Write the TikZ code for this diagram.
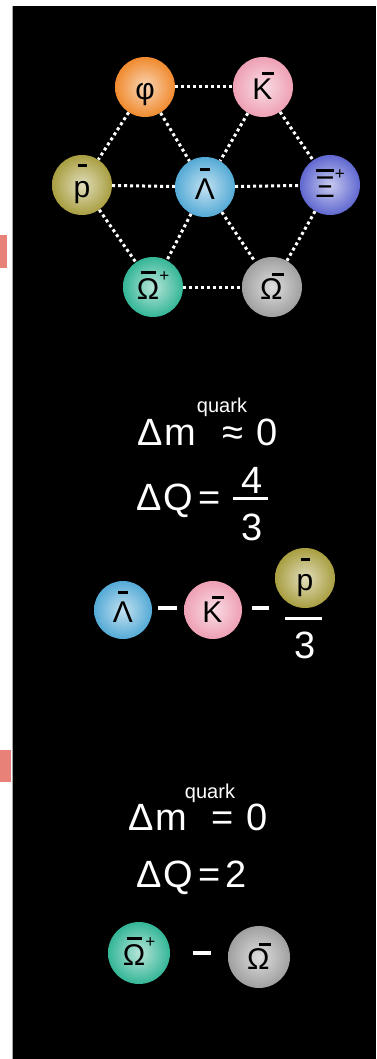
\documentclass[tikz,border=0pt]{standalone}
\usepackage{fontspec}
\setmainfont{Liberation Sans}
\newfontfamily\eqfont{Liberation Sans}[LetterSpace=6]
\usepackage{tikz}
\usetikzlibrary{positioning}

\definecolor{phiorange}{RGB}{240,138,46}
\definecolor{kpink}{RGB}{238,160,180}
\definecolor{polive}{RGB}{168,158,64}
\definecolor{lamblue}{RGB}{84,170,214}
\definecolor{xipurple}{RGB}{96,104,208}
\definecolor{omteal}{RGB}{52,182,150}
\definecolor{omgray}{RGB}{160,160,160}
\definecolor{salmon}{RGB}{232,130,120}

% bar over a letter: [width]{raise}{letter}
\newcommand{\obar}[3][0.4em]{\setbox0=\hbox{#3}\hbox to\wd0{\hss\raisebox{#2}{\rule{#1}{0.1em}}\hss}\kern-\wd0\box0}
% bar at the upper right
\newcommand{\rbar}{\kern-0.36em\raisebox{0.8em}{\rule{0.4em}{0.1em}}}
\newcommand{\plus}{\raisebox{0.6em}{\fontsize{17}{17}\selectfont+}}

\tikzset{ball/.style={circle, minimum size=60pt, inner sep=0pt, text=black,
  text height=30pt, text depth=5pt, font=\fontsize{30}{30}\selectfont,
  inner color=#1!35!white, outer color=#1}}
\tikzstyle{link} = [white, line width=3pt, dash pattern=on 3pt off 3pt]
\tikzstyle{eq} = [text=white, inner sep=0pt, font=\eqfont\fontsize{38}{38}\selectfont]
\tikzstyle{tiny} = [text=white, inner sep=0pt, font=\fontsize{20}{20}\selectfont]
\tikzstyle{minus} = [text=white, inner sep=0pt]

\begin{document}
\begin{tikzpicture}[x=1pt, y=-1pt]
    \useasboundingbox (0,0) rectangle (376,1059);
    \fill[white] (0,0) rectangle (376,1059);
    \fill[black] (12.5,6) rectangle (376,1059);
    \draw[gray!70, line width=1pt] (12.5,6) -- (12.5,1059);
    \fill[salmon] (0,235) rectangle (7,268);
    \fill[salmon] (0,750) rectangle (10.5,782);

    % Hexagon
    \node (phi) [ball=phiorange] at (145,87) {φ};
    \node (kbar) [ball=kpink] at (263,87) {K\rbar};
    \node (pbar) [ball=polive] at (82,185) {\obar[0.3em]{1.0em}{p}};
    \node (lbar) [ball=lamblue] at (205,187) {\obar[0.32em]{0.95em}{Λ}};
    \node (xibar) [ball=xipurple] at (330,185) {\obar[0.6em]{0.86em}{Ξ}\plus};
    \node (ombar) [ball=omteal] at (153,287) {\obar[0.5em]{0.86em}{Ω}\plus};
    \node (omin) [ball=omgray] at (272,287) {Ω\rbar};

    \draw [link] (phi) -- (kbar);
    \draw [link] (phi) -- (pbar);
    \draw [link] (phi) -- (lbar);
    \draw [link] (kbar) -- (lbar);
    \draw [link] (kbar) -- (xibar);
    \draw [link] (pbar) -- (lbar);
    \draw [link] (lbar) -- (xibar);
    \draw [link] (pbar) -- (ombar);
    \draw [link] (lbar) -- (ombar);
    \draw [link] (lbar) -- (omin);
    \draw [link] (xibar) -- (omin);
    \draw [link] (ombar) -- (omin);

    % First relation
    \node (dm1) [eq, anchor=base west] at (137,445) {Δm};
    \node (qk1) [tiny] at (222,407) {quark};
    \node (ap1) [eq, anchor=base east] at (278,445) {≈\kern13pt0};
    \node (dq1) [eq, anchor=base west] at (136,510) {ΔQ\kern5pt=};
    \node (top1) [eq] at (252,480) {4};
    \node (fr1) [minus] at (250.5,498) {\rule{35pt}{3pt}};
    \node (bot1) [eq] at (252,527) {3};

    \node (l2) [ball=lamblue, minimum size=58pt] at (123,610) {\obar[0.32em]{0.95em}{Λ}};
    \node (m1) [minus] at (167.5,608) {\rule{19pt}{3.5pt}};
    \node (k2) [ball=kpink, minimum size=58pt] at (213,610) {K\rbar};
    \node (m2) [minus] at (260.5,608) {\rule{17pt}{3.5pt}};
    \node (p2) [ball=polive] at (305,578) {\obar[0.3em]{1.0em}{p}};
    \node (fr2) [minus] at (303.5,618) {\rule{37pt}{3pt}};
    \node (bot2) [eq] at (305,645) {3};

    % Second relation
    \node (dm2) [eq, anchor=base west] at (128,830) {Δm};
    \node (qk2) [tiny] at (210,793) {quark};
    \node (eq2) [eq, anchor=base east] at (268,830) {=\kern13pt0};
    \node (dq2) [eq, anchor=base west] at (136,887) {ΔQ\kern5pt=\kern5pt2};

    \node (o3) [ball=omteal, minimum size=62pt] at (139,953) {\obar[0.5em]{0.86em}{Ω}\plus};
    \node (m3) [minus] at (202,953) {\rule{18pt}{3.5pt}};
    \node (g3) [ball=omgray, minimum size=62pt] at (259,957) {Ω\rbar};
\end{tikzpicture}
\end{document}
